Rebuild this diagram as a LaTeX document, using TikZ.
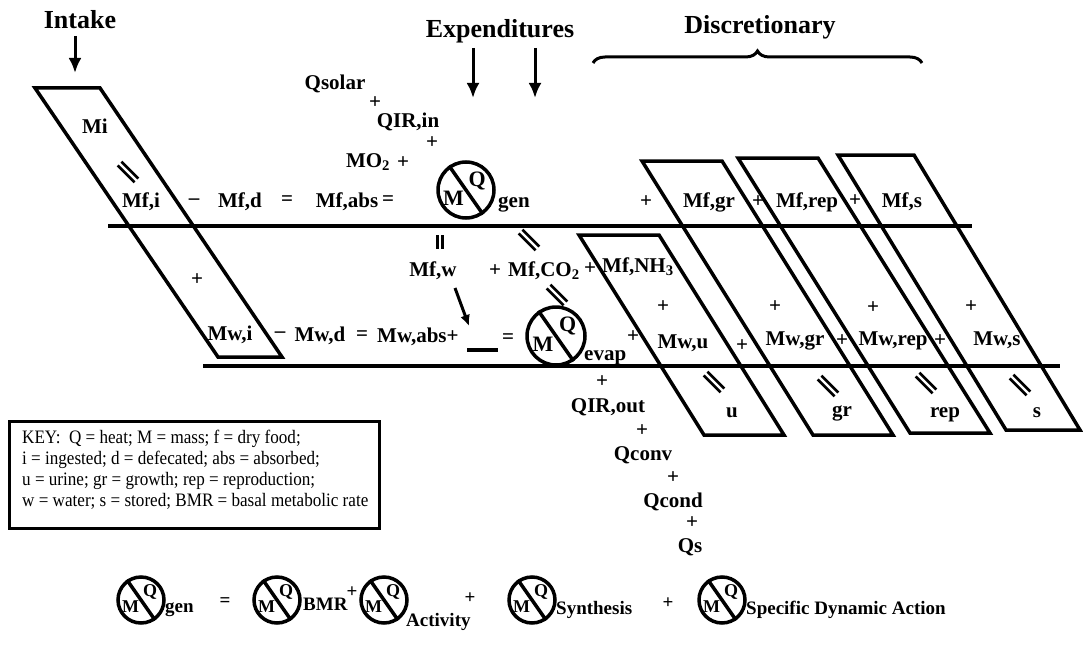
\documentclass[tikz,border=0pt]{standalone}
\usepackage{fontspec}
\setmainfont{Liberation Serif}
\usetikzlibrary{calc,decorations.pathreplacing,arrows.meta}
\tikzset{
  lbl/.style={font=\bfseries\fontsize{21}{21}\selectfont, inner sep=0pt},
  blbl/.style={font=\bfseries\fontsize{19}{19}\selectfont, inner sep=0pt},
  head/.style={font=\bfseries\fontsize{26}{26}\selectfont, inner sep=0pt},
  mqtxt/.style={font=\bfseries\fontsize{#1}{#1}\selectfont, inner sep=0pt},
  shapeline/.style={line width=3.5pt, line join=miter},
  bar/.style={line width=4pt},
  arr/.style={line width=3pt, -{Latex[length=15pt,width=13pt]}},
  sarr/.style={line width=3pt, -{Latex[length=11pt,width=10pt]}},
  pics/eqmark/.style={code={\draw[line width=2.6pt] (-12,-2.7)--(12,-2.7) (-12,2.7)--(12,2.7);}},
  pics/vbars/.style={code={\draw[line width=2.8pt] (-2.6,-7)--(-2.6,7) (2.6,-7)--(2.6,7);}}
}
\newcommand\mqsym[5]{% name, x, y, radius, letter size
  \node[draw, circle, line width=3.5pt, minimum size=#4*2pt, inner sep=0pt] (#1) at (#2,#3) {};
  \draw[line width=3.5pt] (#1.125) -- (#1.-55);
  \node[mqtxt=#5] (#1M) at ($(#1.center)+(-0.45*#4,0.3*#4)$) {M};
  \node[mqtxt=#5] (#1Q) at ($(#1.center)+(0.4*#4,-0.33*#4)$) {Q};
}
\begin{document}
\begin{tikzpicture}[x=1pt,y=-1pt]
\useasboundingbox (0,0) rectangle (1083,658);

% headings and arrows
\node[head] (intake) at (80,20) {Intake};
\node[head] (expend) at (500,31) {Expenditures};
\node[head] (discr) at (760,27) {Discretionary};
\coordinate (inA) at (75,36); \coordinate (inB) at (75,73);
\draw[arr] (inA) -- (inB);
\coordinate (exA) at (473,48); \coordinate (exB) at (473,98);
\coordinate (exC) at (535,48); \coordinate (exD) at (535,98);
\draw[arr] (exA) -- (exB);
\draw[arr] (exC) -- (exD);
\coordinate (brL) at (593,63); \coordinate (brR) at (922,63);
\draw[line width=3pt, decorate, decoration={brace, amplitude=12pt, aspect=0.5}] (brL) -- (brR);

% horizontal lines
\coordinate (upL) at (108,226); \coordinate (upR) at (972,226);
\coordinate (loL) at (203,366); \coordinate (loR) at (1060,366);
\draw[bar] (upL) -- (upR);
\draw[bar] (loL) -- (loR);

% parallelograms
\draw[shapeline] (35,88) -- (100,88) -- (282,357) -- (218,357) -- cycle;
\draw[shapeline] (579,235) -- (659,235) -- (784,435) -- (704,435) -- cycle;
\draw[shapeline] (642,161) -- (722,161) -- (893,435) -- (813,435) -- cycle;
\draw[shapeline] (738,158) -- (818,158) -- (990,433) -- (910,433) -- cycle;
\draw[shapeline] (838,155) -- (914,155) -- (1080,430) -- (1006,430) -- cycle;

% equality marks
\pic[rotate=-45] (eqI) at (128,172) {eqmark};
\pic[rotate=-45] (eqU) at (714,382) {eqmark};
\pic[rotate=-45] (eqG) at (828,386) {eqmark};
\pic[rotate=-45] (eqR) at (926,383) {eqmark};
\pic[rotate=-45] (eqS) at (1020,385) {eqmark};
\pic[rotate=-45] (eqM1) at (529,240) {eqmark};
\pic[rotate=-45] (eqM2) at (557,295) {eqmark};
\pic (eqV) at (440,242) {vbars};

% upper terms
\node[lbl, anchor=base] (qsolar) at (335,90) {Qsolar};
\node[lbl] (pl1) at (375,103) {+};
\node[lbl, anchor=base] (qirin) at (408,128) {QIR,in};
\node[lbl] (pl2) at (432,143) {+};
\node[lbl, anchor=base] (mo2) at (368,167) {MO\textsubscript{2}};
\node[lbl] (pl3) at (403,163) {+};
\node[lbl, anchor=base] (mi) at (95,133) {Mi};
\node[lbl, anchor=base] (mfi) at (141,207) {Mf,i};
\node[lbl] (mn1) at (194,202) {--};
\node[lbl, anchor=base] (mfd) at (240,207) {Mf,d};
\node[lbl] (eq1) at (287,201) {=};
\node[lbl, anchor=base] (mfabs) at (347,207) {Mf,abs};
\node[lbl] (eq2) at (388,201) {=};
\mqsym{gen}{466}{190}{28}{22}
\node[lbl, anchor=base west] (gentxt) at (498,207) {gen};
\node[lbl] (pl4) at (646,202) {+};
\node[lbl, anchor=base] (mfgr) at (709,207) {Mf,gr};
\node[lbl] (pl5) at (758,202) {+};
\node[lbl, anchor=base] (mfrep) at (807,207) {Mf,rep};
\node[lbl] (pl6) at (855,201) {+};
\node[lbl, anchor=base] (mfs) at (902,207) {Mf,s};

% middle terms
\node[lbl, anchor=base] (mfw) at (433,276) {Mf,w};
\node[lbl] (pl7) at (495,271) {+};
\node[lbl, anchor=base west] (mfco2) at (508,276) {Mf,CO\textsubscript{2}};
\node[lbl] (pl8) at (590,269) {+};
\node[lbl, anchor=base west] (mfnh3) at (602,272) {Mf,NH\textsubscript{3}};
\coordinate (wA) at (455,288); \coordinate (wB) at (469,326);
\draw[sarr] (wA) -- (wB);
\node[lbl] (pl9) at (197,280) {+};
\node[lbl] (pr1) at (663,307) {+};
\node[lbl] (pr2) at (775,307) {+};
\node[lbl] (pr3) at (873,308) {+};
\node[lbl] (pr4) at (971,307) {+};

% lower terms
\node[lbl, anchor=base] (mwi) at (230,340) {Mw,i};
\node[lbl] (mn2) at (280,335) {--};
\node[lbl, anchor=base] (mwd) at (320,341) {Mw,d};
\node[lbl] (eq3) at (362,336) {=};
\node[lbl, anchor=base west] (mwabs) at (377,342) {Mw,abs+};
\coordinate (blA) at (467,350); \coordinate (blB) at (498,350);
\draw[bar] (blA) -- (blB);
\node[lbl] (eq4) at (508,339) {=};
\mqsym{evp}{556}{336}{29}{22}
\node[lbl, anchor=base west] (evap) at (584,360) {evap};
\node[lbl] (pl10) at (633,337) {+};
\node[lbl, anchor=base] (mwu) at (683,348) {Mw,u};
\node[lbl] (pl11) at (742,346) {+};
\node[lbl, anchor=base] (mwgr) at (795,345) {Mw,gr};
\node[lbl] (pl12) at (842,341) {+};
\node[lbl, anchor=base] (mwrep) at (893,345) {Mw,rep};
\node[lbl] (pl13) at (940,341) {+};
\node[lbl, anchor=base] (mws) at (997,345) {Mw,s};

\node[lbl] (lu) at (732,413) {u};
\node[lbl] (lgr) at (842,413) {gr};
\node[lbl] (lrep) at (945,415) {rep};
\node[lbl] (ls) at (1037,413) {s};

% heat losses
\node[lbl] (pl14) at (602,382) {+};
\node[lbl, anchor=base] (qirout) at (608,412) {QIR,out};
\node[lbl] (pl15) at (642,431) {+};
\node[lbl, anchor=base] (qconv) at (643,460) {Qconv};
\node[lbl] (pl16) at (673,478) {+};
\node[lbl, anchor=base] (qcond) at (673,507) {Qcond};
\node[lbl] (pl17) at (692,523) {+};
\node[lbl, anchor=base] (qs) at (690,552) {Qs};

% key
\node[draw, line width=2.5pt, anchor=north west, minimum width=370pt, minimum height=107pt, inner sep=0pt] (keybox) at (8,420) {};
\node[anchor=north west, align=left, inner sep=0pt, font=\fontsize{19}{21}\selectfont, xscale=0.9, transform shape] (keytxt) at (22,430)
 {KEY:\ \ Q = heat; M = mass; f = dry food;\\
  i = ingested; d = defecated; abs = absorbed;\\
  u = urine; gr = growth; rep = reproduction;\\
  w = water; s = stored; BMR = basal metabolic rate};

% bottom equation
\mqsym{b1}{141}{600}{23}{18}
\node[blbl, anchor=base west] (bgen) at (165,612) {gen};
\node[blbl] (beq) at (225,602) {=};
\mqsym{b2}{277}{600}{23}{18}
\node[blbl, anchor=base west] (bbmr) at (303,610) {BMR};
\node[blbl] (bp1) at (352,592) {+};
\mqsym{b3}{384}{600}{23}{18}
\node[blbl, anchor=base west] (bact) at (406,626) {Activity};
\node[blbl] (bp2) at (470,598) {+};
\mqsym{b4}{532}{600}{23}{18}
\node[blbl, anchor=base west] (bsyn) at (556,614) {Synthesis};
\node[blbl] (bp3) at (668,603) {+};
\mqsym{b5}{722}{600}{23}{18}
\node[blbl, anchor=base west] (bsda) at (746,614) {Specific Dynamic Action};
\end{tikzpicture}
\end{document}
